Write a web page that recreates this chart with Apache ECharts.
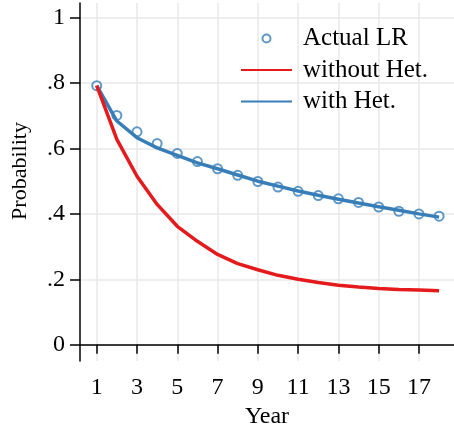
<!DOCTYPE html>
<html>
<head>
<meta charset="utf-8">
<script src="https://cdn.jsdelivr.net/npm/echarts@6/dist/echarts.min.js"></script>
<style>
  html, body { margin: 0; padding: 0; background: #fff; }
  #chart { width: 454px; height: 430px; }
</style>
</head>
<body>
<div id="chart"></div>
<script>
// data
const years = [1, 2, 3, 4, 5, 6, 7, 8, 9, 10, 11, 12, 13, 14, 15, 16, 17, 18]
const actualLR = [0.792, 0.701, 0.651, 0.615, 0.585, 0.560, 0.538, 0.518, 0.499, 0.482, 0.469, 0.456, 0.446, 0.435, 0.421, 0.408, 0.400, 0.393]
const withoutHet = [0.792, 0.628, 0.515, 0.429, 0.362, 0.316, 0.276, 0.248, 0.229, 0.212, 0.200, 0.190, 0.182, 0.176, 0.172, 0.169, 0.167, 0.165]
const withHet = [0.792, 0.684, 0.633, 0.602, 0.579, 0.556, 0.538, 0.519, 0.500, 0.485, 0.470, 0.457, 0.445, 0.433, 0.422, 0.411, 0.400, 0.390]
const xTicks = [1, 3, 5, 7, 9, 11, 13, 15, 17]
const yTicks = [0, 0.2, 0.4, 0.6, 0.8, 1]
const yTickLabels = ['0', '.2', '.4', '.6', '.8', '1']

const serif = '"Liberation Serif", "DejaVu Serif", serif'
const red = '#e41a1c'
const blue = '#377eb8'
const gridColor = '#e8e8e8'

const pairs = (ys) => years.map((x, i) => [x, ys[i]])

const chart = echarts.init(document.getElementById('chart'))
chart.setOption({
  animation: false,
  textStyle: { fontFamily: serif },
  grid: { left: 80, right: 0, top: 3, bottom: 69, containLabel: false, outerBoundsMode: 'none' },
  legend: {
    data: [
      { name: 'Actual LR' },
      { name: 'without Het.', itemStyle: { opacity: 0 } },
      { name: 'with Het.', itemStyle: { opacity: 0 } }
    ],
    orient: 'vertical',
    left: 240,
    top: 26,
    padding: 0,
    itemWidth: 51,
    itemHeight: 8,
    itemGap: 6.5,
    textStyle: { fontFamily: serif, fontSize: 25, color: '#000', padding: [0, 0, 0, 6] }
  },
  xAxis: {
    type: 'value',
    min: 0.17,
    max: 18.74,
    name: 'Year',
    nameLocation: 'middle',
    nameGap: 44,
    nameTextStyle: { fontFamily: serif, fontSize: 24, color: '#000' },
    axisLine: { lineStyle: { color: '#000', width: 1.5 } },
    axisTick: { customValues: xTicks, length: 9, lineStyle: { color: '#000', width: 1.5 } },
    axisLabel: { customValues: xTicks, margin: 15, fontFamily: serif, fontSize: 24, color: '#000' },
    splitLine: { show: true, lineStyle: { color: gridColor, width: 1.5 } }
  },
  yAxis: {
    type: 'value',
    min: -0.05,
    max: 1.045,
    name: 'Probability',
    nameLocation: 'middle',
    nameGap: 49,
    nameTextStyle: { fontFamily: serif, fontSize: 22, color: '#000', padding: [0, 0, 0, 22] },
    axisLine: { show: true, lineStyle: { color: '#000', width: 1.5 } },
    axisTick: { show: true, customValues: yTicks, length: 10, lineStyle: { color: '#000', width: 1.5 } },
    axisLabel: {
      customValues: yTicks,
      margin: 15,
      fontFamily: serif,
      fontSize: 24,
      color: '#000',
      formatter: (v) => yTickLabels[yTicks.findIndex(t => Math.abs(t - v) < 1e-6)]
    },
    splitLine: { show: true, lineStyle: { color: gridColor, width: 1.5 } }
  },
  series: [
    {
      name: 'Actual LR',
      type: 'scatter',
      symbol: 'emptyCircle',
      symbolSize: 9,
      itemStyle: { color: blue, borderWidth: 2 },
      data: pairs(actualLR),
      z: 2
    },
    {
      name: 'with Het.',
      type: 'line',
      symbol: 'none',
      lineStyle: { color: blue, width: 3.5 },
      itemStyle: { color: blue },
      data: pairs(withHet),
      z: 3
    },
    {
      name: 'without Het.',
      type: 'line',
      symbol: 'none',
      lineStyle: { color: red, width: 3.5 },
      itemStyle: { color: red },
      data: pairs(withoutHet),
      z: 4
    }
  ]
})
</script>
</body>
</html>
